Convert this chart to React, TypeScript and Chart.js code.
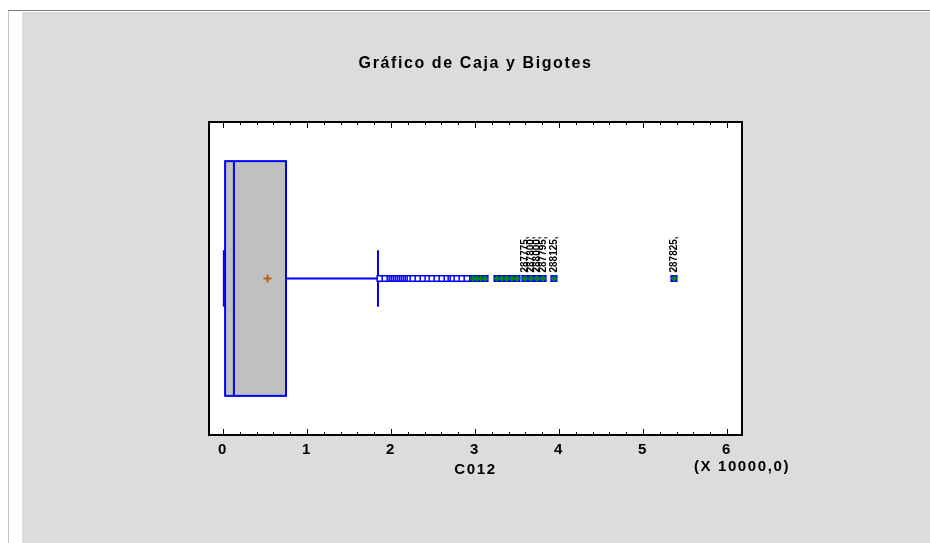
import React, { useEffect, useRef } from 'react';
import { Chart, registerables } from 'chart.js';

Chart.register(...registerables);

// ---- text ----
const chartTitle = 'Gráfico de Caja y Bigotes';
const axisTitle = 'C012';
const scaleNote = '(X 10000,0)';

// ---- axis ----
const axisMin = -1667;
const axisMax = 61786;
const tickValues = [0, 2000, 4000, 6000, 8000, 10000, 12000, 14000, 16000, 18000, 20000, 22000, 24000, 26000, 28000, 30000, 32000, 34000, 36000, 38000, 40000, 42000, 44000, 46000, 48000, 50000, 52000, 54000, 56000, 58000, 60000];
const majorStep = 10000;
const tickLabels = ['0', '1', '2', '3', '4', '5', '6'];

// ---- box statistics ----
const boxMin = 100;
const boxQ1 = 250;
const boxMedian = 1300;
const boxQ3 = 7500;
const boxWhiskerHigh = 18450;
const boxMean = 5300;

// ---- outliers ----
const mildOutliers = [18690, 19290, 19880, 20120, 20360, 20600, 20830, 21070, 21310, 21550, 21790, 22020, 22260, 22620, 23210, 23810, 24400, 24880, 25480, 26070, 26670, 27140, 27380, 27860, 28450, 29050];
const farOutliers = [29760, 30240, 30710, 31190, 32620, 33210, 33810, 34400, 35000, 35950, 36670, 37380, 38100, 39400, 53690];
const labeledValues = [35950, 36670, 37380, 38100, 39400, 53690];
const labeledTexts = ['287775,', '287800,', '288000,', '287795,', '288125,', '287825,'];

const FONT = '"Liberation Sans", Arial, Helvetica, sans-serif';
const BLUE = '#0000ff';
const SPACING = '1.6px';

const framePlugin = {
  id: 'frame',
  beforeDraw(chart: any) {
    const { ctx, width, height, chartArea: a } = chart;
    ctx.save();
    ctx.fillStyle = '#ffffff';
    ctx.fillRect(0, 0, width, height);
    ctx.fillStyle = '#dcdcdc';
    ctx.fillRect(22, 12, width - 22, height - 12);
    ctx.lineWidth = 1;
    ctx.strokeStyle = '#808080';
    ctx.beginPath();
    ctx.moveTo(8, 10.5);
    ctx.lineTo(width, 10.5);
    ctx.stroke();
    ctx.strokeStyle = '#c4c4c4';
    ctx.beginPath();
    ctx.moveTo(8.5, 11);
    ctx.lineTo(8.5, height);
    ctx.stroke();
    ctx.fillStyle = '#ffffff';
    ctx.fillRect(a.left, a.top, a.right - a.left, a.bottom - a.top);
    ctx.restore();
    (ctx as any).letterSpacing = SPACING;
  },
  beforeDatasetsDraw(chart: any) {
    const { ctx } = chart;
    const xs = chart.scales.x;
    const ys = chart.scales.y;
    const px = (v: number) => xs.getPixelForValue(v);
    const py = (v: number) => ys.getPixelForValue(v);
    const bTop = py(0.875), bBot = py(0.125), cy = py(0.5);
    const cTop = py(0.59), cBot = py(0.41);
    ctx.save();
    ctx.fillStyle = '#c0c0c0';
    ctx.strokeStyle = BLUE;
    ctx.lineWidth = 2;
    ctx.fillRect(px(boxQ1), bTop, px(boxQ3) - px(boxQ1), bBot - bTop);
    ctx.strokeRect(px(boxQ1), bTop, px(boxQ3) - px(boxQ1), bBot - bTop);
    ctx.beginPath();
    ctx.moveTo(px(boxMedian), bTop);
    ctx.lineTo(px(boxMedian), bBot);
    ctx.moveTo(px(boxQ3), cy);
    ctx.lineTo(px(boxWhiskerHigh), cy);
    ctx.moveTo(px(boxWhiskerHigh), cTop);
    ctx.lineTo(px(boxWhiskerHigh), cBot);
    ctx.moveTo(px(boxQ1), cy);
    ctx.lineTo(px(boxMin), cy);
    ctx.moveTo(px(boxMin), cTop);
    ctx.lineTo(px(boxMin), cBot);
    ctx.stroke();
    ctx.restore();
  },
  afterDatasetsDraw(chart: any) {
    const { ctx, chartArea: a } = chart;
    const xs = chart.scales.x;
    const ys = chart.scales.y;
    ctx.save();
    (ctx as any).letterSpacing = '0px';
    ctx.fillStyle = '#000000';
    ctx.font = `bold 10px ${FONT}`;
    ctx.textAlign = 'left';
    ctx.textBaseline = 'middle';
    labeledValues.forEach((v, i) => {
      ctx.save();
      ctx.translate(xs.getPixelForValue(v), ys.getPixelForValue(0.5) - 6);
      ctx.rotate(-Math.PI / 2);
      ctx.fillText(labeledTexts[i], 0, 0);
      ctx.restore();
    });
    ctx.strokeStyle = '#000000';
    ctx.lineWidth = 2;
    ctx.strokeRect(a.left, a.top, a.right - a.left, a.bottom - a.top);
    ctx.lineWidth = 1;
    ctx.beginPath();
    tickValues.forEach((v) => {
      const x = Math.round(xs.getPixelForValue(v)) + 0.5;
      const len = v % majorStep === 0 ? 6 : 3;
      ctx.moveTo(x, a.bottom);
      ctx.lineTo(x, a.bottom - len);
      ctx.moveTo(x, a.top);
      ctx.lineTo(x, a.top + len);
    });
    ctx.stroke();
    (ctx as any).letterSpacing = SPACING;
    ctx.font = `bold 15px ${FONT}`;
    ctx.textAlign = 'center';
    ctx.textBaseline = 'middle';
    ctx.fillText(scaleNote, a.right, 467);
    ctx.restore();
  },
};

export default function App() {
  const ref = useRef<HTMLCanvasElement>(null);
  useEffect(() => {
    document.body.style.margin = '0';
    Chart.defaults.font.family = FONT;
    const chart = new Chart(ref.current as HTMLCanvasElement, {
      type: 'scatter',
      data: {
        datasets: [
          {
            label: 'mean',
            data: [{ x: boxMean, y: 0.5 }],
            pointStyle: 'cross',
            pointRadius: 4,
            borderColor: '#b5651d',
            borderWidth: 2,
            backgroundColor: '#b5651d',
          },
          {
            label: 'farCross',
            data: farOutliers.map((v) => ({ x: v, y: 0.5 })),
            pointStyle: 'cross',
            pointRadius: 3,
            borderColor: '#008800',
            backgroundColor: '#008800',
            borderWidth: 2,
          },
          {
            label: 'far',
            data: farOutliers.map((v) => ({ x: v, y: 0.5 })),
            pointStyle: 'rect',
            pointRadius: 4,
            borderColor: BLUE,
            backgroundColor: '#3050ff',
            borderWidth: 1.5,
          },
          {
            label: 'mild',
            data: mildOutliers.map((v) => ({ x: v, y: 0.5 })),
            pointStyle: 'rect',
            pointRadius: 4,
            borderColor: BLUE,
            backgroundColor: '#ffffff',
            borderWidth: 1.5,
          },
        ],
      },
      options: {
        responsive: false,
        maintainAspectRatio: false,
        animation: false,
        events: [],
        layout: { padding: { top: 0, left: 209, right: 188, bottom: 48 } },
        plugins: {
          legend: { display: false },
          tooltip: { enabled: false },
          title: {
            display: true,
            text: chartTitle,
            color: '#000000',
            font: { size: 16, weight: 'bold', family: FONT },
            padding: { top: 54, bottom: 48.8 },
          },
        },
        scales: {
          x: {
            type: 'linear',
            min: axisMin,
            max: axisMax,
            afterBuildTicks: (scale: any) => {
              scale.ticks = tickValues.map((v) => ({ value: v }));
            },
            afterFit: (scale: any) => {
              scale.height = 60;
            },
            ticks: {
              autoSkip: false,
              maxRotation: 0,
              padding: 6,
              color: '#000000',
              font: { size: 15, weight: 'bold', family: FONT },
              callback: (v: any) => (Number(v) % majorStep === 0 ? tickLabels[Number(v) / majorStep] : ''),
            },
            grid: { display: false, drawTicks: false },
            border: { display: false },
            title: {
              display: true,
              text: axisTitle,
              color: '#000000',
              font: { size: 15, weight: 'bold', family: FONT },
              padding: { top: 0, bottom: 16 },
            },
          },
          y: { type: 'linear', min: 0, max: 1, display: false },
        },
      },
      plugins: [framePlugin],
    } as any);
    return () => chart.destroy();
  }, []);
  return (
    <div style={{ width: 930, height: 543 }}>
      <canvas ref={ref} width={930} height={543} style={{ display: 'block' }} />
    </div>
  );
}
